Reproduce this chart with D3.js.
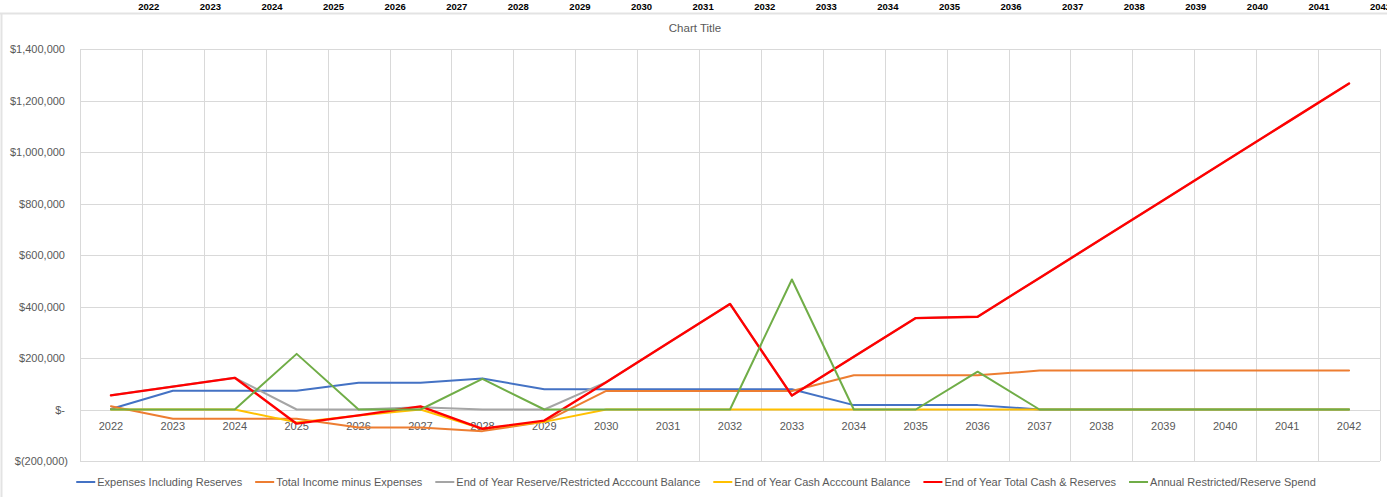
<!DOCTYPE html>
<html>
<head>
<meta charset="utf-8">
<script src="https://cdn.jsdelivr.net/npm/d3@7"></script>
<style>
  html, body { margin: 0; padding: 0; background: #fff; }
  svg { display: block; }
  text { font-family: "Liberation Sans", Arial, sans-serif; }
</style>
</head>
<body>
<svg id="chart" width="1387" height="497"></svg>
<script>
// Categories and series
const years = [2022, 2023, 2024, 2025, 2026, 2027, 2028, 2029, 2030, 2031, 2032,
               2033, 2034, 2035, 2036, 2037, 2038, 2039, 2040, 2041, 2042];

const expensesIncludingReserves = [2000, 73000, 73000, 73000, 104000, 104000, 120000, 79000, 79000, 79000, 79000,
                                   79000, 17000, 17000, 17000, 0, 0, 0, 0, 0, 0];
const totalIncomeMinusExpenses = [13000, -36000, -36000, -36000, -70000, -70000, -84000, -48000, 72000, 72000, 72000,
                                  72000, 133000, 133000, 133000, 151000, 151000, 151000, 151000, 151000, 151000];
const reserveAccountBalance = [55000, 89000, 123000, 0, 0, 9000, 0, 0, 106000, 258000, 410000,
                               54000, 205000, 355000, 360000, 511000, 662000, 813000, 964000, 1115000, 1266000];
const cashAccountBalance = [0, 0, 0, -50000, -23000, 0, -75000, -48000, 0, 0, 0,
                            0, 0, 0, 0, 0, 0, 0, 0, 0, 0];
const totalCashAndReserves = [55000, 89000, 123000, -55000, -23000, 12000, -75000, -43000, 106000, 258000, 410000,
                              54000, 205000, 355000, 360000, 511000, 662000, 813000, 964000, 1115000, 1266000];
const annualReserveSpend = [0, 0, 0, 216000, 0, 0, 119000, 0, 0, 0, 0,
                            505000, 0, 0, 147000, 0, 0, 0, 0, 0, 0];

const seriesNames = [
  "Expenses Including Reserves",
  "Total Income minus Expenses",
  "End of Year Reserve/Restricted Acccount Balance",
  "End of Year Cash Acccount Balance",
  "End of Year Total Cash & Reserves",
  "Annual Restricted/Reserve Spend"
];
const seriesValues = [
  expensesIncludingReserves,
  totalIncomeMinusExpenses,
  reserveAccountBalance,
  cashAccountBalance,
  totalCashAndReserves,
  annualReserveSpend
];
const seriesColors = ["#4472C4", "#ED7D31", "#A5A5A5", "#FFC000", "#FF0000", "#70AD47"];
const seriesWidths = [2, 2, 2, 2, 2.4, 2];

const yTicks = [-200000, 0, 200000, 400000, 600000, 800000, 1000000, 1200000, 1400000];
const chartTitle = "Chart Title";

// Layout
const W = 1387, H = 497;
const plot = { left: 80, right: 1380, top: 49, bottom: 461 };
const textGrey = "#595959";
const gridGrey = "#D9D9D9";

const svg = d3.select("#chart");

// Sheet header row with the year labels and the frame border
const headerX = d3.scalePoint().domain(years).range([148.8, 1380.6]);
svg.append("line")
  .attr("x1", 0).attr("x2", W).attr("y1", 13.5).attr("y2", 13.5)
  .attr("stroke", "#E3E3E3").attr("stroke-width", 2);
svg.append("line")
  .attr("x1", 1.5).attr("x2", 1.5).attr("y1", 13.5).attr("y2", H)
  .attr("stroke", "#E3E3E3").attr("stroke-width", 2);
svg.append("g").selectAll("text").data(years).join("text")
  .attr("x", d => headerX(d))
  .attr("y", 10)
  .attr("text-anchor", "middle")
  .attr("font-size", "9.5px")
  .attr("font-weight", "bold")
  .attr("fill", "#000")
  .text(d => d);

// Scales
const x = d3.scaleBand().domain(years).range([plot.left, plot.right]).padding(0);
const y = d3.scaleLinear().domain([-200000, 1400000]).range([plot.bottom, plot.top]);
const cx = d => x(d) + x.bandwidth() / 2;

// Gridlines
const grid = svg.append("g").attr("shape-rendering", "crispEdges");
grid.selectAll("line.h").data(yTicks).join("line")
  .attr("class", "h")
  .attr("x1", plot.left).attr("x2", plot.right)
  .attr("y1", d => Math.round(y(d)) + 0.5).attr("y2", d => Math.round(y(d)) + 0.5)
  .attr("stroke", gridGrey).attr("stroke-width", 1);
const bounds = years.map(d => x(d)).concat([plot.right]);
grid.selectAll("line.v").data(bounds).join("line")
  .attr("class", "v")
  .attr("x1", d => Math.round(d) + 0.5).attr("x2", d => Math.round(d) + 0.5)
  .attr("y1", plot.top).attr("y2", plot.bottom)
  .attr("stroke", gridGrey).attr("stroke-width", 1);

// Y axis labels in accounting style
const fmtNum = d3.format(",");
function accounting(v) {
  if (v === 0) return "$-";
  if (v < 0) return "$(" + fmtNum(-v) + ")";
  return "$" + fmtNum(v);
}
const yAxis = d3.axisLeft(y).tickValues(yTicks).tickFormat(accounting).tickSize(0).tickPadding(0);
const yG = svg.append("g").attr("transform", `translate(${plot.left - 15},0)`).call(yAxis);
yG.select(".domain").remove();
yG.selectAll("text")
  .attr("font-family", '"Liberation Sans", Arial, sans-serif')
  .attr("font-size", "11px")
  .attr("fill", textGrey)
  .attr("dx", d => d < 0 ? 3 : 0);

// X axis labels sit below the zero line
const xAxis = d3.axisBottom(x).tickSize(0).tickPadding(0);
const xG = svg.append("g").attr("transform", `translate(0,${y(0)})`).call(xAxis);
xG.select(".domain").remove();
xG.selectAll("text")
  .attr("font-family", '"Liberation Sans", Arial, sans-serif')
  .attr("font-size", "11px")
  .attr("fill", textGrey)
  .attr("dy", "0")
  .attr("y", 20);

// Series lines
const line = d3.line().x((d, i) => cx(years[i])).y(d => y(d));
svg.append("g").selectAll("path").data(seriesValues).join("path")
  .attr("d", d => line(d))
  .attr("fill", "none")
  .attr("stroke", (d, i) => seriesColors[i])
  .attr("stroke-width", (d, i) => seriesWidths[i])
  .attr("stroke-linejoin", "round")
  .attr("stroke-linecap", "round");

// Title
svg.append("text")
  .attr("x", 695).attr("y", 32)
  .attr("text-anchor", "middle")
  .attr("font-size", "11.5px")
  .attr("fill", textGrey)
  .text(chartTitle);

// Legend
const legend = svg.append("g").attr("transform", "translate(0,482)");
const items = legend.selectAll("g").data(seriesNames).join("g");
items.append("line")
  .attr("x1", 0).attr("x2", 19).attr("y1", 0).attr("y2", 0)
  .attr("stroke", (d, i) => seriesColors[i]).attr("stroke-width", 2);
items.append("text")
  .attr("x", 21).attr("y", 4)
  .attr("font-size", "11px")
  .attr("fill", textGrey)
  .text(d => d);
let offsets = [], pos = 0;
items.each(function () {
  offsets.push(pos);
  const w = d3.select(this).select("text").node().getComputedTextLength();
  pos += 21 + w + 13;
});
const total = pos - 13;
const start = 696 - total / 2;
items.attr("transform", (d, i) => `translate(${start + offsets[i]},0)`);
</script>
</body>
</html>
